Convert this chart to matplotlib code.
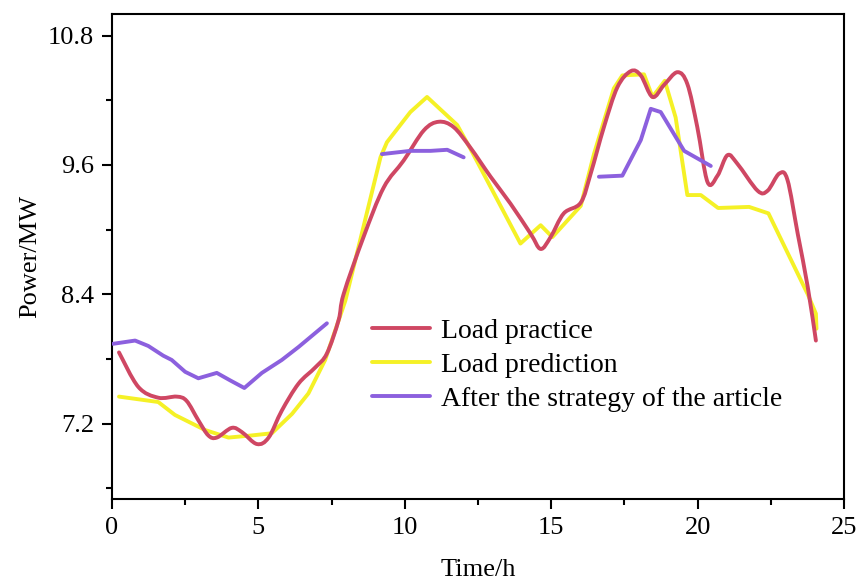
import matplotlib
matplotlib.use("Agg")
import matplotlib.pyplot as plt
import numpy as np
from matplotlib.path import Path
from matplotlib.patches import PathPatch
from matplotlib.lines import Line2D
from matplotlib.ticker import MultipleLocator

# Load practice (measured)
practice_t = [0.24, 0.90, 1.58, 2.21, 2.55, 2.95, 3.29, 3.58, 4.09, 4.44, 4.95, 5.35,
              5.80, 6.37, 6.94, 7.34, 7.74, 7.91, 8.59, 9.28, 9.96, 10.65, 11.16,
              11.67, 12.24, 12.93, 13.61, 14.30, 14.64, 14.98, 15.43, 16.01, 16.35,
              16.80, 17.26, 17.72, 18.06, 18.46, 18.85, 19.31, 19.65, 19.99, 20.34,
              20.68, 21.02, 21.36, 22.05, 22.39, 22.79, 23.07, 23.42, 23.76, 24.04]
practice_p = [7.86, 7.54, 7.44, 7.45, 7.41, 7.23, 7.09, 7.07, 7.16, 7.12, 7.01, 7.07,
              7.32, 7.57, 7.72, 7.85, 8.16, 8.40, 8.93, 9.39, 9.64, 9.92, 10.00,
              9.95, 9.76, 9.49, 9.24, 8.96, 8.82, 8.93, 9.15, 9.25, 9.52,
              9.95, 10.32, 10.47, 10.43, 10.23, 10.34, 10.46, 10.35, 9.95, 9.44,
              9.50, 9.69, 9.61, 9.36, 9.36, 9.52, 9.46, 8.96, 8.47, 7.97]

# Load prediction
pred_t = [0.24, 1.58, 2.15, 3.18, 3.98, 4.78, 5.46, 6.15, 6.71, 7.28, 7.97, 9.17,
          9.39, 10.19, 10.76, 11.79, 12.24, 13.95, 14.64, 15.04, 16.01, 16.46,
          17.14, 17.43, 18.17, 18.46, 18.88, 19.25, 19.65, 20.11, 20.70, 21.76,
          22.42, 23.76, 24.04, 24.06]
pred_p = [7.45, 7.40, 7.28, 7.14, 7.07, 7.09, 7.11, 7.29, 7.48, 7.79, 8.34, 9.67,
          9.81, 10.09, 10.23, 9.97, 9.75, 8.87, 9.04, 8.93, 9.22, 9.70,
          10.31, 10.43, 10.44, 10.23, 10.38, 10.04, 9.32, 9.32, 9.20, 9.21,
          9.15, 8.40, 8.22, 8.08]

# After the strategy of the article (three separate segments)
strat1_t = [0.04, 0.79, 1.24, 1.75, 2.04, 2.50, 2.95, 3.58, 4.04, 4.52, 5.12, 5.80, 6.37, 7.34]
strat1_p = [7.94, 7.97, 7.92, 7.83, 7.79, 7.68, 7.62, 7.67, 7.60, 7.53, 7.67, 7.79, 7.91, 8.13]
strat2_t = [9.22, 10.19, 10.88, 11.45, 12.01]
strat2_p = [9.70, 9.73, 9.73, 9.74, 9.67]
strat3_t = [16.63, 17.43, 18.06, 18.40, 18.74, 19.54, 20.45]
strat3_p = [9.49, 9.50, 9.83, 10.12, 10.09, 9.73, 9.59]

labels = ["Load practice", "Load prediction", "After the strategy of the article"]
colors = ["#cf4763", "#f5f126", "#8c60de"]


def smooth_path(xs, ys):
    # Catmull-Rom through the read points, drawn as cubic Bezier segments
    pts = np.column_stack([xs, ys])
    ext = np.vstack([pts[0], pts, pts[-1]])
    verts = [tuple(pts[0])]
    codes = [Path.MOVETO]
    for i in range(1, len(ext) - 2):
        p0, p1, p2, p3 = ext[i - 1], ext[i], ext[i + 1], ext[i + 2]
        c1 = p1 + (p2 - p0) / 6.0
        c2 = p2 - (p3 - p1) / 6.0
        verts += [tuple(c1), tuple(c2), tuple(p2)]
        codes += [Path.CURVE4] * 3
    return Path(verts, codes)


plt.rcParams["font.family"] = ["Liberation Serif", "DejaVu Serif"]

fig = plt.figure(figsize=(8.6, 5.85), dpi=100)
ax = fig.add_axes([0.1302, 0.147, 0.8512, 0.8291])

lw = 2.8
style = dict(lw=lw, solid_joinstyle="round", solid_capstyle="round")
ax.add_patch(PathPatch(smooth_path(practice_t, practice_p), facecolor="none",
                       edgecolor=colors[0], lw=lw, capstyle="round",
                       joinstyle="round", zorder=3))
ax.plot(pred_t, pred_p, color=colors[1], zorder=2, **style)
ax.plot(strat1_t, strat1_p, color=colors[2], zorder=4, **style)
ax.plot(strat2_t, strat2_p, color=colors[2], zorder=4, **style)
ax.plot(strat3_t, strat3_p, color=colors[2], zorder=4, **style)

ax.set_xlim(0, 25)
ax.set_ylim(6.5, 11.0)
ax.xaxis.set_major_locator(MultipleLocator(5))
ax.xaxis.set_minor_locator(MultipleLocator(2.5))
ax.yaxis.set_minor_locator(MultipleLocator(0.6))
ax.set_yticks([7.2, 8.4, 9.6, 10.8])
ax.set_yticklabels(["7.2", "8.4", "9.6", "10.8"])

for s in ax.spines.values():
    s.set_linewidth(1.5)
ax.tick_params(which="major", direction="out", length=7, width=1.5, labelsize=19, pad=6)
ax.tick_params(which="minor", direction="out", length=4, width=1.5)
ax.tick_params(top=False, right=False, which="both")

ax.set_xlabel("Time/h", fontsize=19, labelpad=14)
ax.set_ylabel("Power/MW", fontsize=19, labelpad=5)

handles = [Line2D([], [], color=c, **style) for c in colors]
ax.legend(handles, labels, loc="upper left", bbox_to_anchor=(0.355, 0.372),
          frameon=False, fontsize=20, handlelength=2.1, handletextpad=0.4,
          labelspacing=0.3, borderpad=0, borderaxespad=0)

fig.savefig("out.png", dpi=100)
